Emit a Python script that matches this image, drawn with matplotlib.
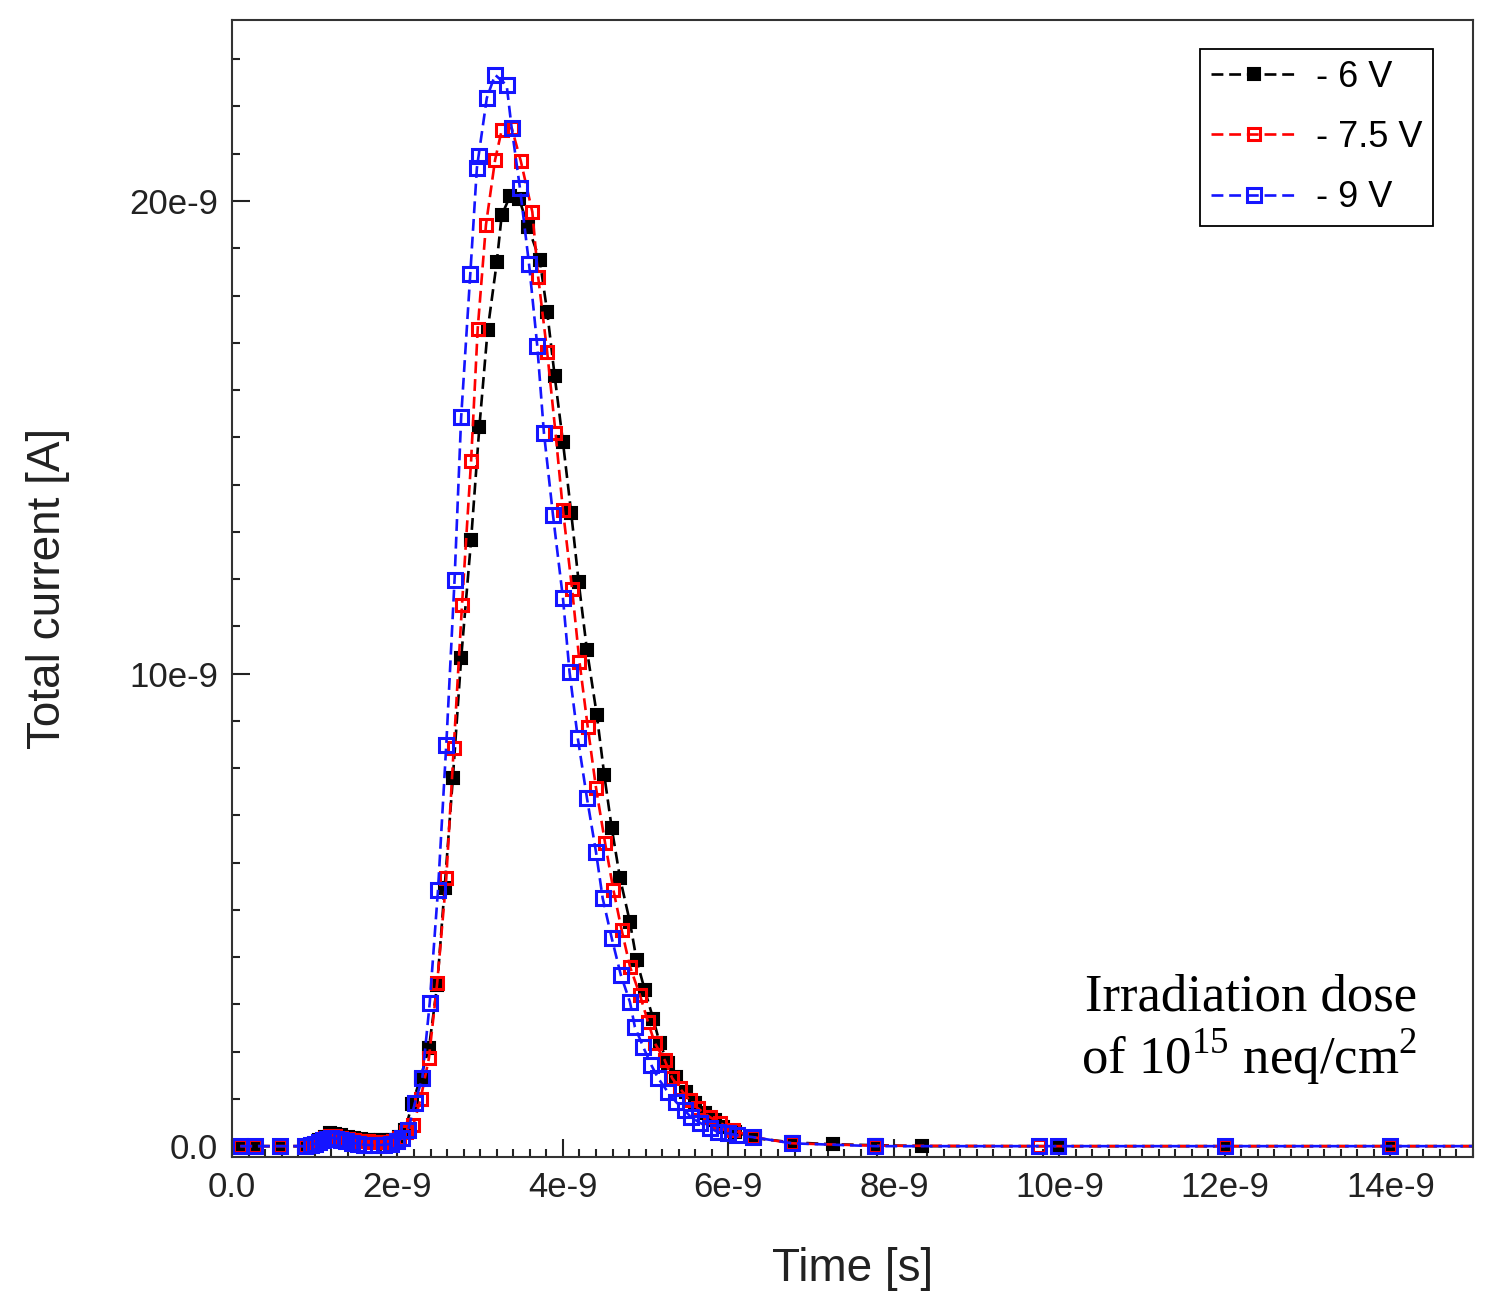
import matplotlib.pyplot as plt
import numpy as np
from matplotlib.ticker import FixedLocator, MultipleLocator, FuncFormatter

plt.rcParams['font.family'] = ['Liberation Sans', 'DejaVu Sans']

# time in units of 1e-9 s, current in units of 1e-9 A
t_6v = [0.10, 0.28, 0.58, 0.88, 0.98, 1.05, 1.12, 1.18, 1.25, 1.32, 1.40, 1.48,
        1.56, 1.64, 1.72, 1.80, 1.88, 1.95, 2.02, 2.09, 2.18, 2.28, 2.38, 2.48,
        2.57, 2.67, 2.77, 2.89, 2.99, 3.09, 3.20, 3.26, 3.36, 3.47, 3.58, 3.72,
        3.81, 3.90, 4.00, 4.10, 4.19, 4.29, 4.41, 4.50, 4.59, 4.69, 4.81, 4.89,
        4.99, 5.09, 5.17, 5.27, 5.37, 5.49, 5.60, 5.72, 5.84, 5.93, 6.08, 6.32,
        6.77, 7.26, 7.78, 8.34, 9.98, 12.0, 14.0, 15.2]
i_6v = [0.0, 0.0, 0.0, 0.0, 0.04, 0.12, 0.20, 0.27, 0.26, 0.23, 0.20, 0.18,
        0.16, 0.14, 0.13, 0.12, 0.12, 0.14, 0.20, 0.34, 0.90, 1.45, 2.07, 3.40,
        5.46, 7.80, 10.33, 12.83, 15.22, 17.27, 18.70, 19.70, 20.10, 20.05, 19.45, 18.75,
        17.65, 16.30, 14.90, 13.40, 11.94, 10.50, 9.12, 7.85, 6.73, 5.67, 4.74, 3.94,
        3.30, 2.70, 2.18, 1.76, 1.46, 1.14, 0.91, 0.70, 0.55, 0.40, 0.30, 0.17,
        0.08, 0.04, 0.02, 0.0, 0.0, 0.0, 0.0, 0.0]

t_75v = [0.10, 0.28, 0.58, 0.88, 0.98, 1.05, 1.12, 1.18, 1.25, 1.32, 1.40, 1.48,
         1.56, 1.64, 1.72, 1.80, 1.88, 1.95, 2.02, 2.10, 2.19, 2.28, 2.38, 2.48,
         2.59, 2.68, 2.78, 2.89, 2.97, 3.07, 3.18, 3.26, 3.38, 3.49, 3.63, 3.70,
         3.81, 3.91, 4.00, 4.11, 4.20, 4.30, 4.40, 4.51, 4.61, 4.71, 4.81, 4.93,
         5.03, 5.11, 5.23, 5.32, 5.41, 5.53, 5.63, 5.78, 5.90, 6.06, 6.30, 6.77,
         7.77, 9.76, 12.0, 14.0, 15.2]
i_75v = [0.0, 0.0, 0.0, 0.0, 0.03, 0.10, 0.17, 0.22, 0.21, 0.18, 0.15, 0.13,
         0.11, 0.10, 0.09, 0.08, 0.09, 0.11, 0.18, 0.30, 0.44, 1.00, 1.86, 3.45,
         5.67, 8.42, 11.45, 14.50, 17.30, 19.50, 20.87, 21.50, 21.55, 20.85, 19.77, 18.40,
         16.80, 15.10, 13.46, 11.80, 10.25, 8.87, 7.58, 6.41, 5.42, 4.57, 3.80, 3.20,
         2.62, 2.18, 1.82, 1.44, 1.23, 0.97, 0.80, 0.61, 0.49, 0.34, 0.19, 0.06,
         0.01, 0.0, 0.0, 0.0, 0.0]

t_9v = [0.10, 0.28, 0.58, 0.88, 0.95, 1.00, 1.05, 1.10, 1.15, 1.20, 1.26, 1.32,
        1.38, 1.45, 1.52, 1.60, 1.68, 1.76, 1.84, 1.92, 2.00, 2.06, 2.13, 2.21,
        2.30, 2.39, 2.49, 2.59, 2.69, 2.77, 2.88, 2.96, 2.98, 3.08, 3.18, 3.32,
        3.38, 3.48, 3.59, 3.69, 3.77, 3.88, 4.00, 4.08, 4.18, 4.29, 4.40, 4.48,
        4.59, 4.70, 4.81, 4.87, 4.97, 5.07, 5.15, 5.27, 5.37, 5.47, 5.55, 5.66,
        5.78, 5.87, 6.00, 6.10, 6.30, 6.77, 7.77, 9.76, 9.98, 12.0, 14.0, 15.2]
i_9v = [0.0, 0.0, 0.0, 0.0, 0.02, 0.05, 0.09, 0.13, 0.16, 0.18, 0.16, 0.13,
        0.10, 0.07, 0.05, 0.03, 0.02, 0.02, 0.03, 0.05, 0.10, 0.18, 0.34, 0.91,
        1.44, 3.03, 5.42, 8.49, 11.98, 15.43, 18.45, 20.70, 20.95, 22.18, 22.67, 22.45,
        21.55, 20.28, 18.67, 16.93, 15.10, 13.35, 11.60, 10.03, 8.63, 7.37, 6.22, 5.25,
        4.40, 3.62, 3.05, 2.52, 2.10, 1.71, 1.44, 1.14, 0.93, 0.76, 0.61, 0.49,
        0.38, 0.30, 0.27, 0.23, 0.19, 0.06, 0.0, 0.0, 0.0, 0.0, 0.0, 0.0]

labels = ['- 6 V', '- 7.5 V', '- 9 V']
x_ticks = [0, 2, 4, 6, 8, 10, 12, 14]
y_ticks = [0, 10, 20]

fig = plt.figure(figsize=(14.9, 13.16), dpi=100)
ax = fig.add_axes([0.1557, 0.1208, 0.8329, 0.864])

dash = (0, (4.5, 2.2))
ax.plot(t_6v, i_6v, color='black', ls=dash, lw=1.9, marker='s',
        ms=8.5, mfc='black', mec='black', mew=1.5, label=labels[0])
ax.plot(t_75v, i_75v, color='#ff0000', ls=dash, lw=1.9, marker='s',
        ms=8.5, mfc='none', mec='#ff0000', mew=2.2, label=labels[1])
ax.plot(t_9v, i_9v, color='#1515ff', ls=dash, lw=1.9, marker='s',
        ms=9.5, mfc='none', mec='#1515ff', mew=2.2, label=labels[2])

ax.set_xlim(0, 15)
ax.set_ylim(-0.23, 23.83)

def fmt(v, pos):
    if v == 0:
        return '0.0'
    return '%de-9' % round(v)

ax.xaxis.set_major_locator(FixedLocator(x_ticks))
ax.yaxis.set_major_locator(FixedLocator(y_ticks))
ax.xaxis.set_major_formatter(FuncFormatter(fmt))
ax.yaxis.set_major_formatter(FuncFormatter(fmt))
ax.xaxis.set_minor_locator(MultipleLocator(0.2))
ax.yaxis.set_minor_locator(MultipleLocator(1))
ax.tick_params(which='both', direction='in', top=False, right=False,
               color='#222222', width=1.5)
ax.tick_params(which='major', length=13, labelsize=25, labelcolor='#222222', pad=10)
ax.tick_params(which='minor', length=6)
for s in ax.spines.values():
    s.set_linewidth(1.5)
    s.set_color('#333333')

ax.set_xlabel('Time [s]', fontsize=33, color='#222222', labelpad=31)
ax.set_ylabel('Total current [A]', fontsize=33, color='#222222', labelpad=43)

leg = ax.legend(loc='upper right', bbox_to_anchor=(0.9678, 0.9745), borderaxespad=0,
                fontsize=26, numpoints=1, handlelength=2.4, fancybox=False,
                edgecolor='black', framealpha=1, labelspacing=0.7,
                borderpad=0.3, handletextpad=0.5)
leg.get_frame().set_linewidth(1.3)

ax.text(0.955, 0.062, 'Irradiation dose\nof 10$^{\\mathregular{15}}$ neq/cm$^{\\mathregular{2}}$',
        transform=ax.transAxes, ha='right', va='bottom', fontsize=38,
        family=['Liberation Serif', 'DejaVu Serif'], linespacing=1.1)

fig.savefig('out.png', dpi=100)
